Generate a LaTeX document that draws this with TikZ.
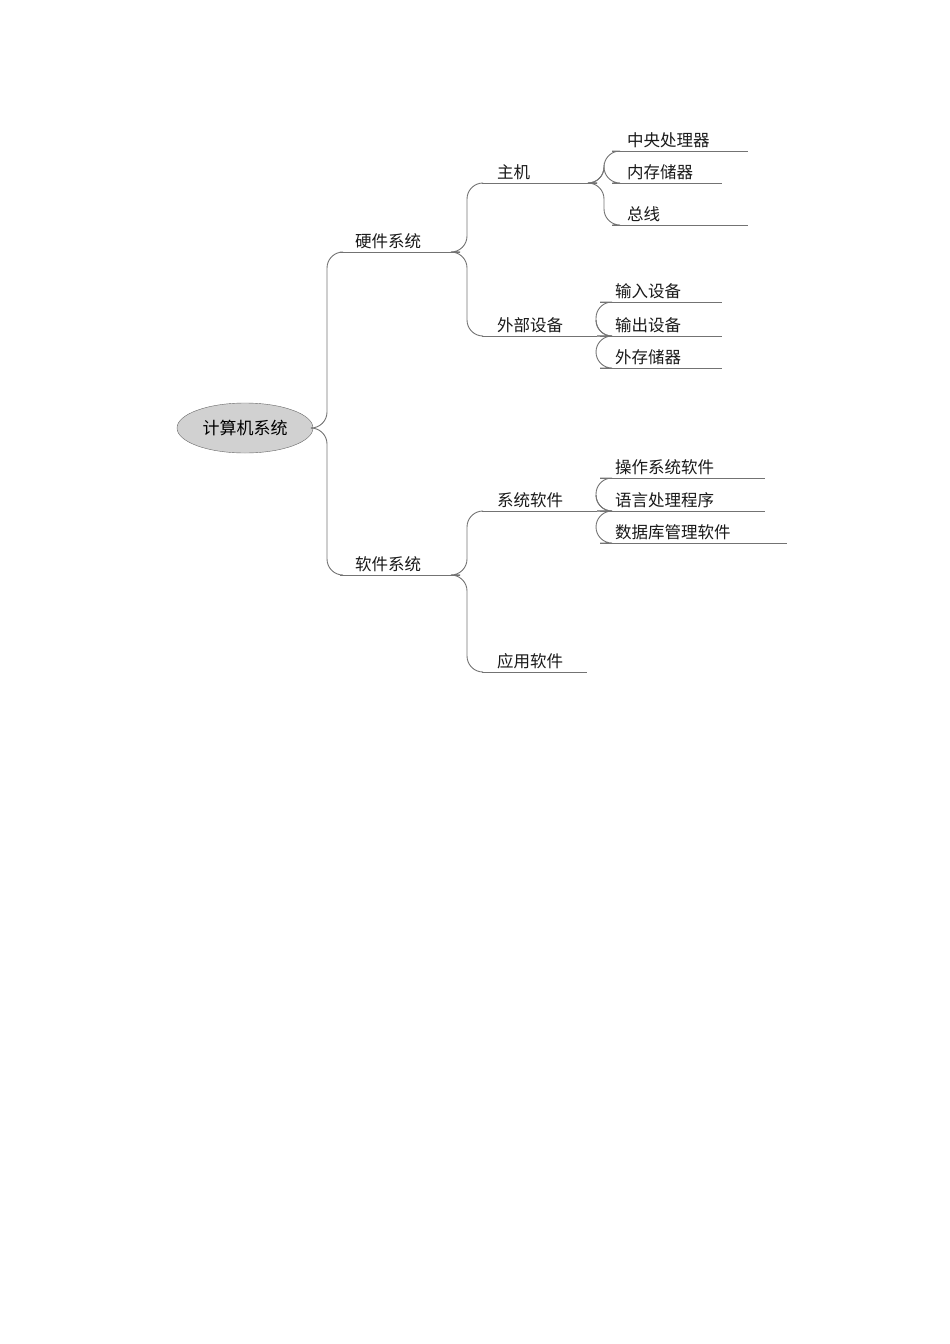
\documentclass[tikz,border=0pt]{standalone}
\usepackage{fontspec}
\setmainfont{Noto Sans CJK SC}
\usetikzlibrary{shapes.geometric}
\begin{document}
\begin{tikzpicture}[x=1pt,y=-1pt,
  lab/.style={font=\fontsize{16.5}{16.5}\selectfont, text=black!90, anchor=south west, inner sep=3pt},
  ul/.style={draw=black!55, line width=0.9pt},
  br/.style={draw=black!55, line width=0.9pt, rounded corners=16pt}]
\useasboundingbox (0,0) rectangle (950,1344);
\node[ellipse, draw=black!60, fill=black!18, minimum width=136, minimum height=50, font=\fontsize{17}{17}\selectfont] (root) at (245,428) {计算机系统};
\newcommand{\leaf}[5]{%
  \coordinate (#1s) at (#2,#4); \coordinate (#1e) at (#3,#4);
  \draw[ul] (#1s) -- (#1e);
  \node[lab] (#1) at ([xshift=12]#1s) {#5};}
\leaf{hw}{340}{460}{252}{硬件系统}
\leaf{sw}{340}{460}{575}{软件系统}
\leaf{zj}{482}{597}{183}{主机}
\leaf{wb}{482}{597}{336}{外部设备}
\leaf{xt}{482}{597}{511}{系统软件}
\leaf{yy}{482}{587}{672}{应用软件}
\leaf{cpu}{612}{748}{151}{中央处理器}
\leaf{nc}{612}{722}{183}{内存储器}
\leaf{zx}{612}{748}{225}{总线}
\leaf{sr}{600}{722}{302}{输入设备}
\leaf{sc}{600}{722}{336}{输出设备}
\leaf{wc}{600}{722}{368}{外存储器}
\leaf{cz}{600}{765}{478}{操作系统软件}
\leaf{yt}{600}{765}{511}{语言处理程序}
\leaf{sj}{600}{787}{543}{数据库管理软件}
\draw[br] (root.east) -- (327,428) |- (hws);
\draw[br] (root.east) -- (327,428) |- (sws);
\draw[br] (hwe) -- (467,252) |- (zjs);
\draw[br] (hwe) -- (467,252) |- (wbs);
\draw[br] (swe) -- (467,575) |- (xts);
\draw[br] (swe) -- (467,575) |- (yys);
\draw[br] (zje) -- (604,183) |- (cpus);
\draw[br] (zje) -- (604,183) |- (ncs);
\draw[br] (zje) -- (604,183) |- (zxs);
\draw[br] (wbe) -- (596,336) |- (srs);
\draw[br] (wbe) -- (596,336) |- (scs);
\draw[br] (wbe) -- (596,336) |- (wcs);
\draw[br] (xte) -- (596,511) |- (czs);
\draw[br] (xte) -- (596,511) |- (yts);
\draw[br] (xte) -- (596,511) |- (sjs);
\end{tikzpicture}
\end{document}
